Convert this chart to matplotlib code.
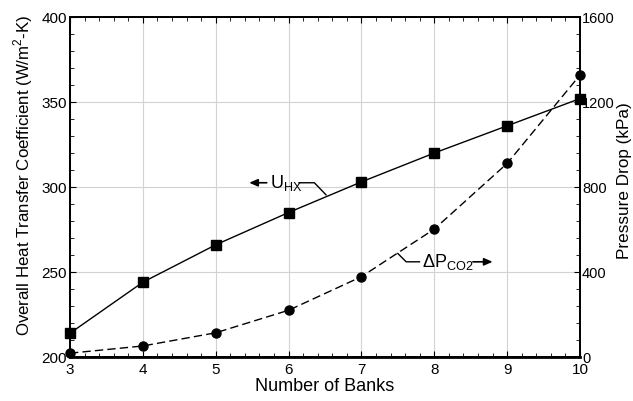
import matplotlib
matplotlib.use('Agg')
import matplotlib.pyplot as plt
from matplotlib.ticker import MultipleLocator

plt.rcParams['font.family'] = ['Liberation Sans', 'DejaVu Sans']
plt.rcParams['mathtext.fontset'] = 'custom'
plt.rcParams['mathtext.rm'] = 'Liberation Sans'

banks = [3, 4, 5, 6, 7, 8, 9, 10]
u_hx = [214, 244, 266, 285, 303, 320, 336, 352]
dp_co2 = [18, 52, 114, 220, 378, 602, 911, 1327]

fig = plt.figure(figsize=(6.33, 4.01), dpi=100)
ax = fig.add_axes([0.1106, 0.1097, 0.8057, 0.8479])
ax2 = ax.twinx()

ax.plot(banks, u_hx, color='black', lw=1.0, marker='s', ms=6.5, clip_on=False, zorder=3)
ax2.plot(banks, dp_co2, color='black', lw=1.0, ls=(0, (6, 3)), marker='o', ms=6.5,
         clip_on=False, zorder=3)

ax.set_xlim(3, 10)
ax.set_ylim(200, 400)
ax2.set_ylim(0, 1600)
ax.xaxis.set_major_locator(MultipleLocator(1))
ax.xaxis.set_minor_locator(MultipleLocator(0.2))
ax.yaxis.set_major_locator(MultipleLocator(50))
ax.yaxis.set_minor_locator(MultipleLocator(10))
ax2.yaxis.set_major_locator(MultipleLocator(400))
ax2.yaxis.set_minor_locator(MultipleLocator(80))

ax.grid(True, which='major', color='#d2d2d2', lw=0.8)
ax.set_axisbelow(True)

ax.tick_params(axis='both', which='both', direction='in', top=True, labelsize=11)
ax.tick_params(axis='x', pad=4)
ax.tick_params(axis='y', pad=2)
ax.tick_params(which='major', length=4)
ax.tick_params(which='minor', length=3)
ax2.tick_params(which='both', direction='in', labelsize=10.5, pad=1.5)
ax2.tick_params(which='major', length=4)
ax2.tick_params(which='minor', length=3)
for a in (ax, ax2):
    for s in a.spines.values():
        s.set_linewidth(1.3)
ax.spines['bottom'].set_linewidth(2)

ax.set_xlabel('Number of Banks', fontsize=13, labelpad=1)
fig.text(0.037, 0.5636, r'Overall Heat Transfer Coefficient (W/m$^{2}$-K)', fontsize=12.2,
         rotation=90, ha='center', va='center')
fig.text(0.987, 0.549, 'Pressure Drop (kPa)', fontsize=12.3,
         rotation=90, ha='center', va='center')

# U_HX label: arrow, text, leader line
ax.text(5.74, 302.5, r'$\mathregular{U_{HX}}$', fontsize=13, va='center', ha='left')
ax.annotate('', xy=(5.46, 302.5), xytext=(5.70, 302.5),
            arrowprops=dict(arrowstyle='-|>,head_length=0.5,head_width=0.22',
                            color='black', lw=1.2, shrinkA=0, shrinkB=0))
ax.annotate('', xy=(6.516, 295.3), xytext=(6.14, 302.5),
            arrowprops=dict(arrowstyle='-', color='black', lw=1.0, shrinkA=0, shrinkB=0,
                            connectionstyle='angle,angleA=0,angleB=134,rad=0'))

# dP_CO2 label: leader line, text, arrow
ax2.text(7.83, 448, r'$\mathregular{\Delta P_{CO2}}$', fontsize=13, va='center', ha='left')
ax2.annotate('', xy=(7.497, 488), xytext=(7.80, 448),
             arrowprops=dict(arrowstyle='-', color='black', lw=1.0, shrinkA=0, shrinkB=0,
                             connectionstyle='angle,angleA=180,angleB=-45,rad=0'))
ax2.annotate('', xy=(8.80, 448), xytext=(8.53, 448),
             arrowprops=dict(arrowstyle='-|>,head_length=0.5,head_width=0.22',
                             color='black', lw=1.2, shrinkA=0, shrinkB=0))

fig.savefig('out.png', dpi=100)
